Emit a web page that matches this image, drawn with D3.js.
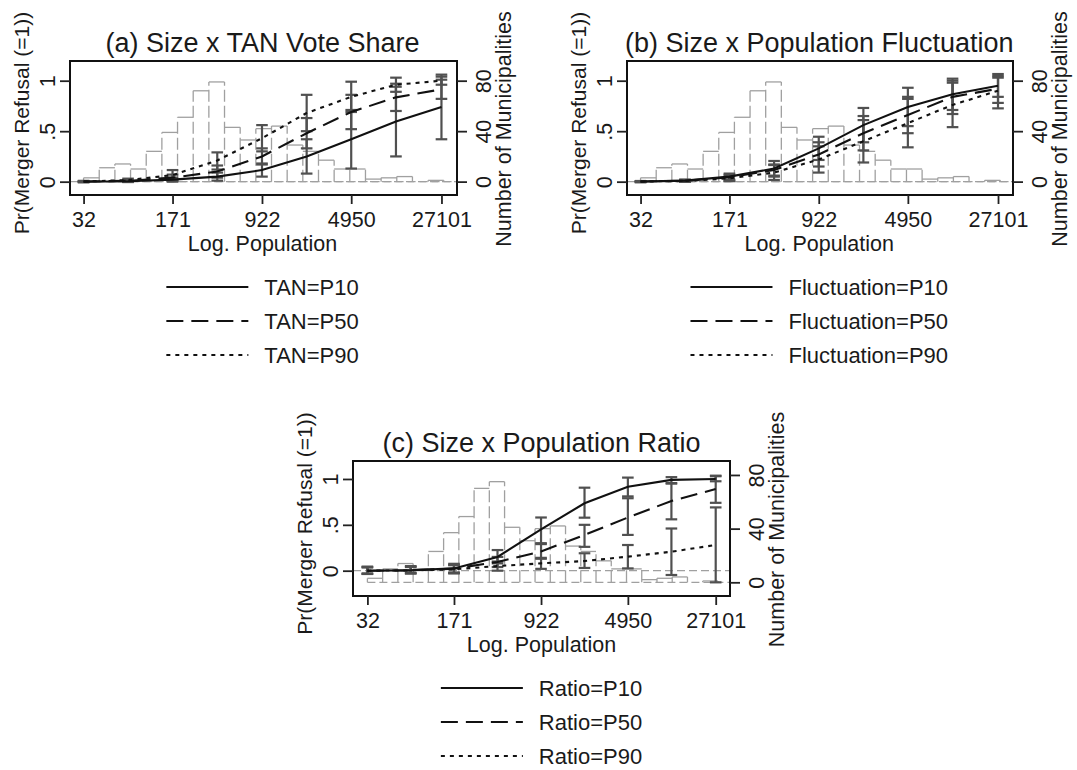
<!DOCTYPE html>
<html><head><meta charset="utf-8">
<script src="https://cdn.jsdelivr.net/npm/d3@7"></script>
<style>
body{margin:0;background:#fff}
svg{display:block}
text{font-family:"Liberation Sans",Arial,Helvetica,sans-serif;fill:#1a1a1a}
</style>
</head><body>
<svg id="chart" width="1077" height="770"></svg>
<script>
// ---------------- data ----------------
const popPoints = [32, 74, 171, 397, 922, 2139, 4950, 11500, 27101];
const xTickValues = [32, 171, 922, 4950, 27101];
const leftTickValues = [0, 0.5, 1];
const leftTickLabels = ["0", ".5", "1"];
const rightTickValues = [0, 40, 80];
const seriesNames = ["P10", "P50", "P90"];

// histogram of log population (bins start at 32, equal width in log units)
const histStartPop = 32;
const histBinWidthLog = 0.295;
const histCountsAB = [3, 11, 14, 10, 24, 39, 51, 72, 79, 43, 33, 42, 44, 29, 24, 17, 10, 10, 2, 3, 4, 0, 1];
const histCountsC  = [3, 10, 14, 10, 23, 37, 49, 70, 75, 41, 31, 40, 42, 27, 23, 16, 10, 10, 2, 3, 4, 0, 1];

// (a) TAN vote share
const tanP10   = [0.000, 0.004, 0.020, 0.050, 0.115, 0.250, 0.420, 0.595, 0.740];
const tanP10Lo = [-0.005, -0.004, 0.000, 0.010, 0.050, 0.080, 0.130, 0.250, 0.420];
const tanP10Hi = [0.005, 0.012, 0.040, 0.090, 0.180, 0.420, 0.710, 0.940, 1.060];
const tanP50   = [0.001, 0.008, 0.040, 0.100, 0.250, 0.480, 0.690, 0.835, 0.914];
const tanP50Lo = [-0.004, -0.002, 0.010, 0.040, 0.170, 0.330, 0.520, 0.700, 0.820];
const tanP50Hi = [0.006, 0.018, 0.070, 0.160, 0.330, 0.630, 0.860, 0.970, 1.010];
const tanP90   = [0.002, 0.015, 0.065, 0.210, 0.430, 0.680, 0.840, 0.960, 1.000];
const tanP90Lo = [-0.004, 0.000, 0.020, 0.120, 0.300, 0.500, 0.690, 0.890, 0.960];
const tanP90Hi = [0.008, 0.030, 0.115, 0.290, 0.560, 0.860, 0.990, 1.030, 1.040];

// (b) population fluctuation
const flucP10   = [0.001, 0.010, 0.050, 0.130, 0.330, 0.560, 0.740, 0.865, 0.950];
const flucP10Lo = [-0.004, 0.000, 0.020, 0.060, 0.215, 0.390, 0.550, 0.710, 0.840];
const flucP10Hi = [0.006, 0.020, 0.080, 0.205, 0.445, 0.730, 0.930, 1.020, 1.066];
const flucP50   = [0.001, 0.009, 0.043, 0.115, 0.270, 0.480, 0.660, 0.840, 0.920];
const flucP50Lo = [-0.004, 0.000, 0.015, 0.050, 0.150, 0.310, 0.480, 0.670, 0.780];
const flucP50Hi = [0.006, 0.018, 0.070, 0.170, 0.390, 0.650, 0.840, 1.000, 1.046];
const flucP90   = [0.001, 0.007, 0.033, 0.090, 0.220, 0.400, 0.580, 0.760, 0.900];
const flucP90Lo = [-0.004, -0.002, 0.005, 0.017, 0.090, 0.190, 0.340, 0.540, 0.726];
const flucP90Hi = [0.006, 0.016, 0.060, 0.165, 0.350, 0.610, 0.820, 0.980, 1.030];

// (c) population ratio
const ratioP10   = [0.000, 0.004, 0.025, 0.150, 0.450, 0.735, 0.916, 0.990, 1.000];
const ratioP10Lo = [-0.030, -0.025, -0.020, 0.080, 0.300, 0.578, 0.810, 0.950, 0.975];
const ratioP10Hi = [0.035, 0.045, 0.075, 0.225, 0.580, 0.905, 1.015, 1.020, 1.030];
const ratioP50   = [0.000, 0.004, 0.022, 0.095, 0.210, 0.390, 0.580, 0.760, 0.890];
const ratioP50Lo = [-0.035, -0.030, -0.025, 0.040, 0.130, 0.260, 0.390, 0.560, 0.740];
const ratioP50Hi = [0.040, 0.040, 0.065, 0.150, 0.290, 0.500, 0.790, 0.955, 1.036];
const ratioP90   = [0.000, 0.003, 0.015, 0.050, 0.080, 0.105, 0.153, 0.207, 0.280];
const ratioP90Lo = [-0.036, -0.030, -0.030, 0.000, 0.020, 0.030, 0.025, -0.047, -0.127];
const ratioP90Hi = [0.044, 0.050, 0.060, 0.100, 0.140, 0.190, 0.280, 0.460, 0.690];

// ---------------- layout / styles ----------------
const dashStyles = [null, "17,8", "4,5"];
const FONT_AXIS = 21.5, FONT_TITLE = 27;

const panels = [
  { title: "(a) Size x TAN Vote Share", prefix: "TAN=",
    box: {x0: 70, x1: 457, y0: 61, y1: 195},
    xLog: [3.21, 10.50], yLeft: [-0.132, 1.195], yRight: [-10.6, 95.6],
    hist: histCountsAB,
    est: [tanP10, tanP50, tanP90], lo: [tanP10Lo, tanP50Lo, tanP90Lo], hi: [tanP10Hi, tanP50Hi, tanP90Hi] },
  { title: "(b) Size x Population Fluctuation", prefix: "Fluctuation=",
    box: {x0: 627, x1: 1013, y0: 61, y1: 195},
    xLog: [3.21, 10.49], yLeft: [-0.132, 1.195], yRight: [-10.6, 95.6],
    hist: histCountsAB,
    est: [flucP10, flucP50, flucP90], lo: [flucP10Lo, flucP50Lo, flucP90Lo], hi: [flucP10Hi, flucP50Hi, flucP90Hi] },
  { title: "(c) Size x Population Ratio", prefix: "Ratio=",
    box: {x0: 353, x1: 730, y0: 461, y1: 596},
    xLog: [3.187, 10.484], yLeft: [-0.276, 1.196], yRight: [-10.2, 90.4],
    hist: histCountsC,
    est: [ratioP10, ratioP50, ratioP90], lo: [ratioP10Lo, ratioP50Lo, ratioP90Lo], hi: [ratioP10Hi, ratioP50Hi, ratioP90Hi] }
];

const svg = d3.select("#chart");

panels.forEach(p => {
  const b = p.box;
  const g = svg.append("g");
  const x = d3.scaleLog().domain([Math.exp(p.xLog[0]), Math.exp(p.xLog[1])]).range([b.x0, b.x1]);
  const yL = d3.scaleLinear().domain(p.yLeft).range([b.y1, b.y0]);
  const yR = d3.scaleLinear().domain(p.yRight).range([b.y1, b.y0]);
  const cx = (x(xTickValues[0]) + x(xTickValues[xTickValues.length - 1])) / 2;
  const cy = (b.y0 + b.y1) / 2;

  // ---- histogram ----
  const edges = d3.range(p.hist.length + 1).map(k => Math.exp(Math.log(histStartPop) + k * histBinWidthLog));
  const hg = g.append("g").attr("fill", "none").attr("stroke", "#a0a0a0").attr("stroke-width", 1.3);
  hg.append("line")
    .attr("x1", x(edges[0])).attr("x2", b.x1)
    .attr("y1", yR(0)).attr("y2", yR(0))
    .attr("stroke-dasharray", "8,4");
  edges.forEach((e, k) => {
    const h = Math.max(p.hist[k - 1] || 0, p.hist[k] || 0);
    if (h > 0) {
      hg.append("line").attr("x1", x(e)).attr("x2", x(e))
        .attr("y1", yR(0)).attr("y2", yR(h))
        .attr("stroke-dasharray", "12,4");
    }
  });
  p.hist.forEach((c, k) => {
    if (c > 0) {
      hg.append("line").attr("x1", x(edges[k])).attr("x2", x(edges[k + 1]))
        .attr("y1", yR(c)).attr("y2", yR(c));
    }
  });

  // ---- zero reference line ----
  g.append("line")
    .attr("x1", b.x0).attr("x2", b.x1)
    .attr("y1", yL(0)).attr("y2", yL(0))
    .attr("stroke", "#a0a0a0").attr("stroke-width", 1.3).attr("stroke-dasharray", "8,4");

  // ---- confidence intervals ----
  const cg = g.append("g").attr("stroke", "#505050").attr("stroke-width", 2.2);
  const capW = 5.8;
  p.est.forEach((arr, s) => {
    popPoints.forEach((pop, i) => {
      const px = x(pop), ylo = yL(p.lo[s][i]), yhi = yL(p.hi[s][i]);
      cg.append("line").attr("x1", px).attr("x2", px).attr("y1", ylo).attr("y2", yhi);
      cg.append("line").attr("x1", px - capW).attr("x2", px + capW).attr("y1", ylo).attr("y2", ylo);
      cg.append("line").attr("x1", px - capW).attr("x2", px + capW).attr("y1", yhi).attr("y2", yhi);
    });
  });

  // ---- margin lines ----
  const line = d3.line().x((d, i) => x(popPoints[i])).y(d => yL(d));
  p.est.forEach((arr, s) => {
    g.append("path").datum(arr)
      .attr("d", line)
      .attr("fill", "none").attr("stroke", "#111").attr("stroke-width", 2.1)
      .attr("stroke-dasharray", dashStyles[s]);
  });

  // ---- frame ----
  g.append("rect").attr("x", b.x0).attr("y", b.y0)
    .attr("width", b.x1 - b.x0).attr("height", b.y1 - b.y0)
    .attr("fill", "none").attr("stroke", "#111").attr("stroke-width", 2);

  // ---- axes ----
  const styleAxis = sel => {
    sel.select(".domain").remove();
    sel.selectAll(".tick line").attr("stroke", "#222").attr("stroke-width", 1.8);
    sel.selectAll(".tick text").style("font-size", FONT_AXIS + "px").attr("fill", "#1a1a1a");
  };
  const xAxis = g.append("g").attr("transform", `translate(0,${b.y1})`)
    .call(d3.axisBottom(x).tickValues(xTickValues).tickFormat(d => String(d)).tickSize(9));
  styleAxis(xAxis);
  xAxis.selectAll(".tick text").attr("y", 0).attr("dy", 0).attr("transform", "translate(0,32)");

  const lAxis = g.append("g").attr("transform", `translate(${b.x0},0)`)
    .call(d3.axisLeft(yL).tickValues(leftTickValues).tickFormat((d, i) => leftTickLabels[i]).tickSize(10));
  styleAxis(lAxis);
  lAxis.selectAll(".tick text").attr("x", 0).attr("dy", 0)
    .attr("text-anchor", "middle").attr("dominant-baseline", "central")
    .attr("transform", "translate(-22,0) rotate(-90)");

  const rAxis = g.append("g").attr("transform", `translate(${b.x1},0)`)
    .call(d3.axisRight(yR).tickValues(rightTickValues).tickFormat(d => String(d)).tickSize(10));
  styleAxis(rAxis);
  rAxis.selectAll(".tick text").attr("x", 0).attr("dy", 0)
    .attr("text-anchor", "middle").attr("dominant-baseline", "central")
    .attr("transform", "translate(27,0) rotate(-90)");

  // ---- titles ----
  g.append("text").attr("x", cx).attr("y", b.y0 - 9)
    .attr("text-anchor", "middle").style("font-size", FONT_TITLE + "px").text(p.title);
  g.append("text").attr("x", cx).attr("y", b.y1 + 56)
    .attr("text-anchor", "middle").style("font-size", FONT_AXIS + "px").text("Log. Population");
  g.append("text").attr("transform", `translate(${b.x0 - 49},${cy - 5}) rotate(-90)`)
    .attr("text-anchor", "middle").attr("dominant-baseline", "central")
    .style("font-size", "21px").text("Pr(Merger Refusal (=1))");
  g.append("text").attr("transform", `translate(${b.x1 + 47},${cy + 1}) rotate(-90)`)
    .attr("text-anchor", "middle").attr("dominant-baseline", "central")
    .style("font-size", "21.5px").text("Number of Municipalities");

  // ---- legend ----
  const lg = g.append("g");
  const keyW = 82, gap = 16, rowOff = [92, 126, 160];
  const texts = seriesNames.map((n, s) => lg.append("text")
    .attr("y", b.y1 + rowOff[s]).attr("dominant-baseline", "central")
    .style("font-size", "22px").text(p.prefix + n));
  const tw = d3.max(texts, t => t.node().getComputedTextLength());
  const start = cx - (keyW + gap + tw) / 2;
  seriesNames.forEach((n, s) => {
    lg.append("line").attr("x1", start).attr("x2", start + keyW)
      .attr("y1", b.y1 + rowOff[s]).attr("y2", b.y1 + rowOff[s])
      .attr("stroke", "#111").attr("stroke-width", 2).attr("stroke-dasharray", dashStyles[s]);
    texts[s].attr("x", start + keyW + gap);
  });
});
</script>
</body></html>
